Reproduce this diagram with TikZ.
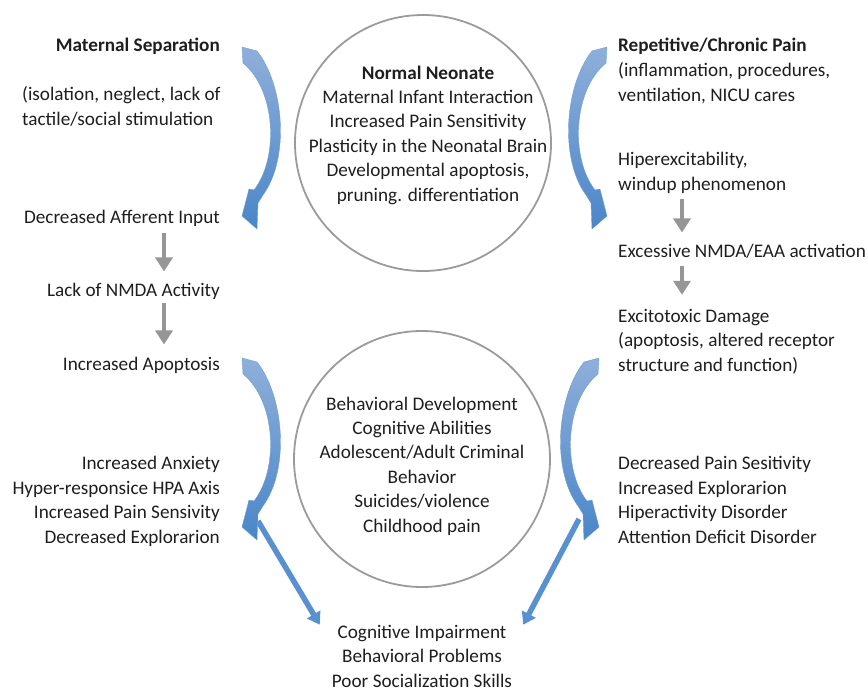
\documentclass[tikz,border=0pt]{standalone}
\usepackage{fontspec}
\setmainfont{Carlito}
\usetikzlibrary{arrows.meta}

\definecolor{arrowgray}{RGB}{150,150,150}
\definecolor{ringgray}{RGB}{155,155,155}
\definecolor{bluedark}{RGB}{74,134,200}
\definecolor{bluelight}{RGB}{143,175,218}
\definecolor{bluestick}{RGB}{88,144,208}
\definecolor{txt}{RGB}{30,30,30}

\tikzset{
  lbl/.style={inner sep=0pt, text=txt, font=\fontsize{19.2}{24.4}\selectfont},
  head/.style={lbl, font=\fontsize{19.2}{24.4}\selectfont\bfseries},
  ring/.style={draw=ringgray, line width=1.8pt, circle},
  grayarr/.style={draw=arrowgray, line width=4pt, -{Triangle[width=17pt,length=14pt]}},
  bluearr/.style={draw=bluestick, line width=5.5pt, -{Triangle[width=15pt,length=12pt]}},
  bentfill/.style={top color=bluelight, bottom color=bluedark, draw=bluedark!80, line width=0.4pt}
}

% one bent arrow, drawn at the top left
\newcommand{\bentarrow}{%
  \path[bentfill] (242,47) -- (257,51) .. controls (284,85) and (290,158) .. (263,195)
    -- (258,203) -- (257,229) -- (242,216) -- (249,189) -- (254,190)
    .. controls (279,158) and (276,90) .. (243,63) -- cycle;}

\begin{document}
\begin{tikzpicture}[x=1pt,y=-1pt]
  \useasboundingbox (0,0) rectangle (868,691);

  % circles
  \node[ring, minimum size=256pt] (neoring) at (423,143) {};
  \node[ring, minimum size=256pt] (behring) at (422,459) {};

  % left side (multi-line nodes sit on their last line)
  \node[head, anchor=base east] (sep) at (220,51) {Maternal Separation};
  \node[lbl, anchor=base west, align=left] (sepwhy) at (22,125) {(isolation, neglect, lack of\\tactile/social stimulation};
  \node[lbl, anchor=base east] (aff) at (220,223) {Decreased Afferent Input};
  \node[lbl, anchor=base east] (nmda) at (220,296) {Lack of NMDA Activity};
  \node[lbl, anchor=base east] (apo) at (220,370) {Increased Apoptosis};
  \node[lbl, anchor=base east, align=right] (anx) at (220,543) {Increased Anxiety\\Hyper-responsice HPA Axis\\Increased Pain Sensivity\\Decreased Explorarion};

  % centre
  \node[lbl, anchor=base, align=center] (neo) at (428,201) {\textbf{Normal Neonate}\\Maternal Infant Interaction\\Increased Pain Sensitivity\\Plasticity in the Neonatal Brain\\Developmental apoptosis,\\pruning. differentiation};
  \node[lbl, anchor=base, align=center] (beh) at (422,532) {Behavioral Development\\Cognitive Abilities\\Adolescent/Adult Criminal\\Behavior\\Suicides/violence\\Childhood pain};
  \node[lbl, anchor=base, align=center] (cog) at (422,687) {Cognitive Impairment\\Behavioral Problems\\Poor Socialization Skills};

  % right side
  \node[head, anchor=base west] (pain) at (618,51) {Repetitive/Chronic Pain};
  \node[lbl, anchor=base west, align=left] (painwhy) at (618,101) {(inflammation, procedures,\\ventilation, NICU cares};
  \node[lbl, anchor=base west, align=left] (hip) at (618,190) {Hiperexcitability,\\windup phenomenon};
  \node[lbl, anchor=base west] (exc) at (618,257) {Excessive NMDA/EAA activation};
  \node[lbl, anchor=base west, align=left] (dam) at (618,371) {Excitotoxic Damage\\(apoptosis, altered receptor\\structure and function)};
  \node[lbl, anchor=base west, align=left] (dec) at (618,543) {Decreased Pain Sesitivity\\Increased Explorarion\\Hiperactivity Disorder\\Attention Deficit Disorder};

  % gray steps
  \coordinate (colL) at (164,0);
  \coordinate (colR) at (682,0);
  \draw[grayarr, shorten <=7pt, shorten >=11pt] (aff.south -| colL) -- (nmda.north -| colL);
  \draw[grayarr, shorten <=4pt, shorten >=12pt] (nmda.south -| colL) -- (apo.north -| colL);
  \draw[grayarr, shorten <=6pt, shorten >=11pt] (hip.south -| colR) -- (exc.north -| colR);
  \draw[grayarr, shorten <=8pt, shorten >=14pt] (exc.south -| colR) -- (dam.north -| colR);

  % straight blue arrows
  \coordinate (hdL) at (258,521);
  \coordinate (hdR) at (579,519);
  \draw[bluearr] (hdL) -- ([xshift=-12pt]cog.north west);
  \draw[bluearr] (hdR) -- ([xshift=11pt]cog.north east);

  % bent blue arrows
  \bentarrow
  \begin{scope}[shift={(0,311)}]\bentarrow\end{scope}
  \begin{scope}[shift={(849,0)}, xscale=-1]\bentarrow\end{scope}
  \begin{scope}[shift={(841,311)}, xscale=-1]\bentarrow\end{scope}
\end{tikzpicture}
\end{document}
